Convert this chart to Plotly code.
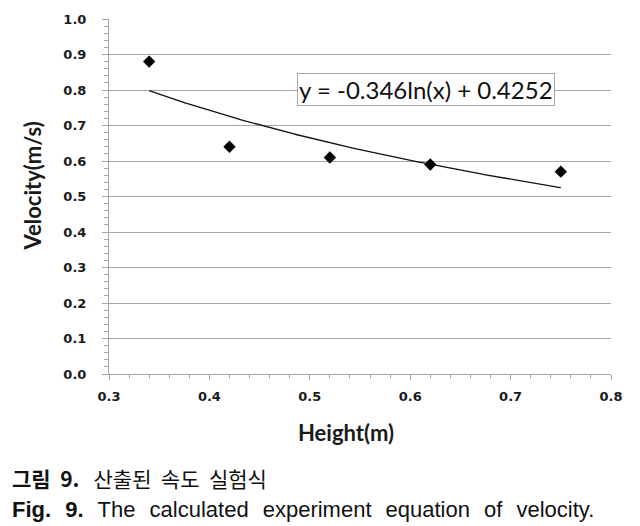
import numpy as np
import plotly.graph_objects as go

# Data
height_m = [0.34, 0.42, 0.52, 0.62, 0.75]
velocity_ms = [0.88, 0.64, 0.61, 0.59, 0.57]

# Logarithmic trendline coefficients shown on the chart
trend_a = -0.346
trend_b = 0.4252
trend_label = "y = -0.346ln(x) + 0.4252"

x_ticks = [0.3, 0.4, 0.5, 0.6, 0.7, 0.8]
y_ticks = [0.0, 0.1, 0.2, 0.3, 0.4, 0.5, 0.6, 0.7, 0.8, 0.9, 1.0]

x_title = "Height(m)"
y_title = "Velocity(m/s)"
caption_ko_bold = ["그림", "9."]
caption_ko = ["산출된", "속도", "실험식"]
caption_en_bold = ["Fig.", "9."]
caption_en = ["The", "calculated", "experiment", "equation", "of", "velocity."]

W, H = 640, 526
L, R, T, B = 109, 29, 16, 152
plot_w = W - L - R
plot_h = H - T - B


def px_x(px):
    return (px - L) / plot_w


def px_y(py):
    return (H - B - py) / plot_h


tx = np.linspace(min(height_m), max(height_m), 200)
ty = trend_a * np.log(tx) + trend_b

grid_col = "#a6a6a6"
tick_font = dict(family="DejaVu Sans", size=13, color="#1a1a1a", weight="bold")
title_font = dict(family="Lato", size=22, color="#1a1a1a", weight="bold")

fig = go.Figure()
fig.add_trace(go.Scatter(
    x=tx, y=ty, mode="lines",
    line=dict(color="#111111", width=1.3),
    hoverinfo="skip", showlegend=False,
))
fig.add_trace(go.Scatter(
    x=height_m, y=velocity_ms, mode="markers",
    marker=dict(symbol="diamond", size=9.5, color="#000000"),
    showlegend=False,
))

fig.update_layout(
    width=W, height=H,
    margin=dict(l=L, r=R, t=T, b=B),
    paper_bgcolor="white", plot_bgcolor="white",
    xaxis=dict(
        range=[0.3, 0.8], tickvals=x_ticks,
        ticktext=[f"{v:.1f}" for v in x_ticks],
        showgrid=False, zeroline=False,
        showline=True, linecolor=grid_col, linewidth=1,
        ticks="outside", ticklen=5, tickcolor=grid_col,
        minor=dict(dtick=0.02, ticks="outside", ticklen=3, tickcolor=grid_col),
        tickfont=tick_font,
        ticklabelstandoff=5,
    ),
    yaxis=dict(
        range=[0, 1.0], tickvals=y_ticks,
        ticktext=[f"{v:.1f}" for v in y_ticks],
        showgrid=True, gridcolor=grid_col, gridwidth=1,
        zeroline=False,
        showline=True, linecolor=grid_col, linewidth=1,
        ticks="outside", ticklen=6, tickcolor=grid_col,
        minor=dict(dtick=0.02, ticks="outside", ticklen=4, tickcolor=grid_col),
        tickfont=tick_font,
        ticklabelstandoff=13,
    ),
)

# Axis titles (placed like the reference)
fig.add_annotation(
    x=px_x(346), y=px_y(433), xref="paper", yref="paper",
    text=x_title, showarrow=False, font=title_font,
    xanchor="center", yanchor="middle",
)
fig.add_annotation(
    x=px_x(33), y=px_y(185), xref="paper", yref="paper",
    text=y_title, showarrow=False, font=title_font, textangle=-90,
    xanchor="center", yanchor="middle",
)

fig.add_annotation(
    x=px_x(425.5), y=px_y(87), xref="paper", yref="paper",
    text=trend_label, showarrow=False,
    font=dict(family="Lato", size=24, color="#111111"),
    bgcolor="white", bordercolor=grid_col, borderwidth=1, borderpad=1,
    xanchor="center", yanchor="middle",
)

gap = "  \u200a"
ko_text = ("<b>" + "  ".join(caption_ko_bold) + "</b>   " + "  ".join(caption_ko))
en_text = ("<b>" + gap.join(caption_en_bold) + "</b>" + gap + gap.join(caption_en))

fig.add_annotation(
    x=px_x(10), y=px_y(479), xref="paper", yref="paper",
    text=ko_text, showarrow=False,
    font=dict(family="Noto Sans CJK KR", size=21, color="#111111"),
    xanchor="left", yanchor="middle",
)
fig.add_annotation(
    x=px_x(10), y=px_y(511), xref="paper", yref="paper",
    text=en_text, showarrow=False,
    font=dict(family="Liberation Sans", size=22, color="#111111"),
    xanchor="left", yanchor="middle",
)

fig.write_html(
    "out.html",
    config={"displayModeBar": False},
    post_script="document.body.style.margin='0';document.body.style.padding='0';",
)
